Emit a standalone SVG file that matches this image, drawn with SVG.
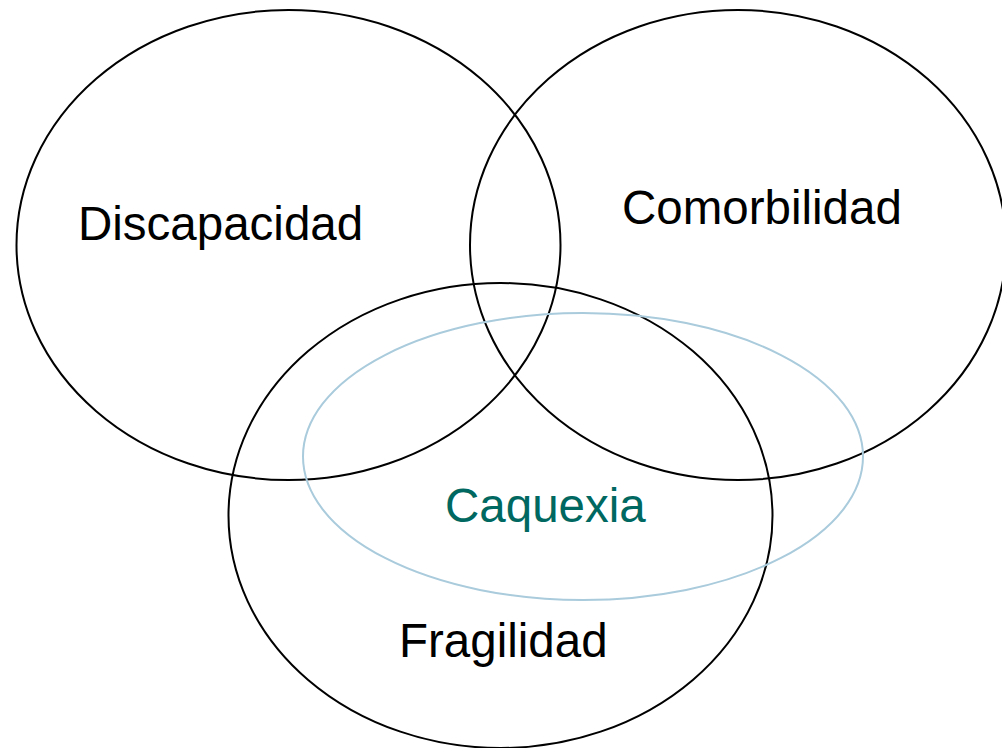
<svg xmlns="http://www.w3.org/2000/svg" width="1002" height="748" viewBox="0 0 1002 748">
<style>
.c{fill:none;stroke:#000;stroke-width:2}
.t{font-family:"Liberation Sans",Arial,sans-serif;font-size:47.5px;fill:#000}
</style>
<rect width="1002" height="748" fill="#fff"/>
<g id="discapacidad"><ellipse class="c" cx="288.5" cy="245" rx="272" ry="235"/><text class="t" x="78" y="240">Discapacidad</text></g>
<g id="comorbilidad"><ellipse class="c" cx="738" cy="245" rx="268" ry="235"/><text class="t" x="622" y="224">Comorbilidad</text></g>
<g id="fragilidad"><ellipse class="c" cx="500.5" cy="515.5" rx="272" ry="232.5"/><text class="t" x="399" y="657">Fragilidad</text></g>
<g id="caquexia"><ellipse cx="583" cy="456.5" rx="280" ry="143.5" fill="none" stroke="#a9cbdc" stroke-width="2"/><text class="t" x="445" y="522" style="fill:#006860">Caquexia</text></g>
</svg>
